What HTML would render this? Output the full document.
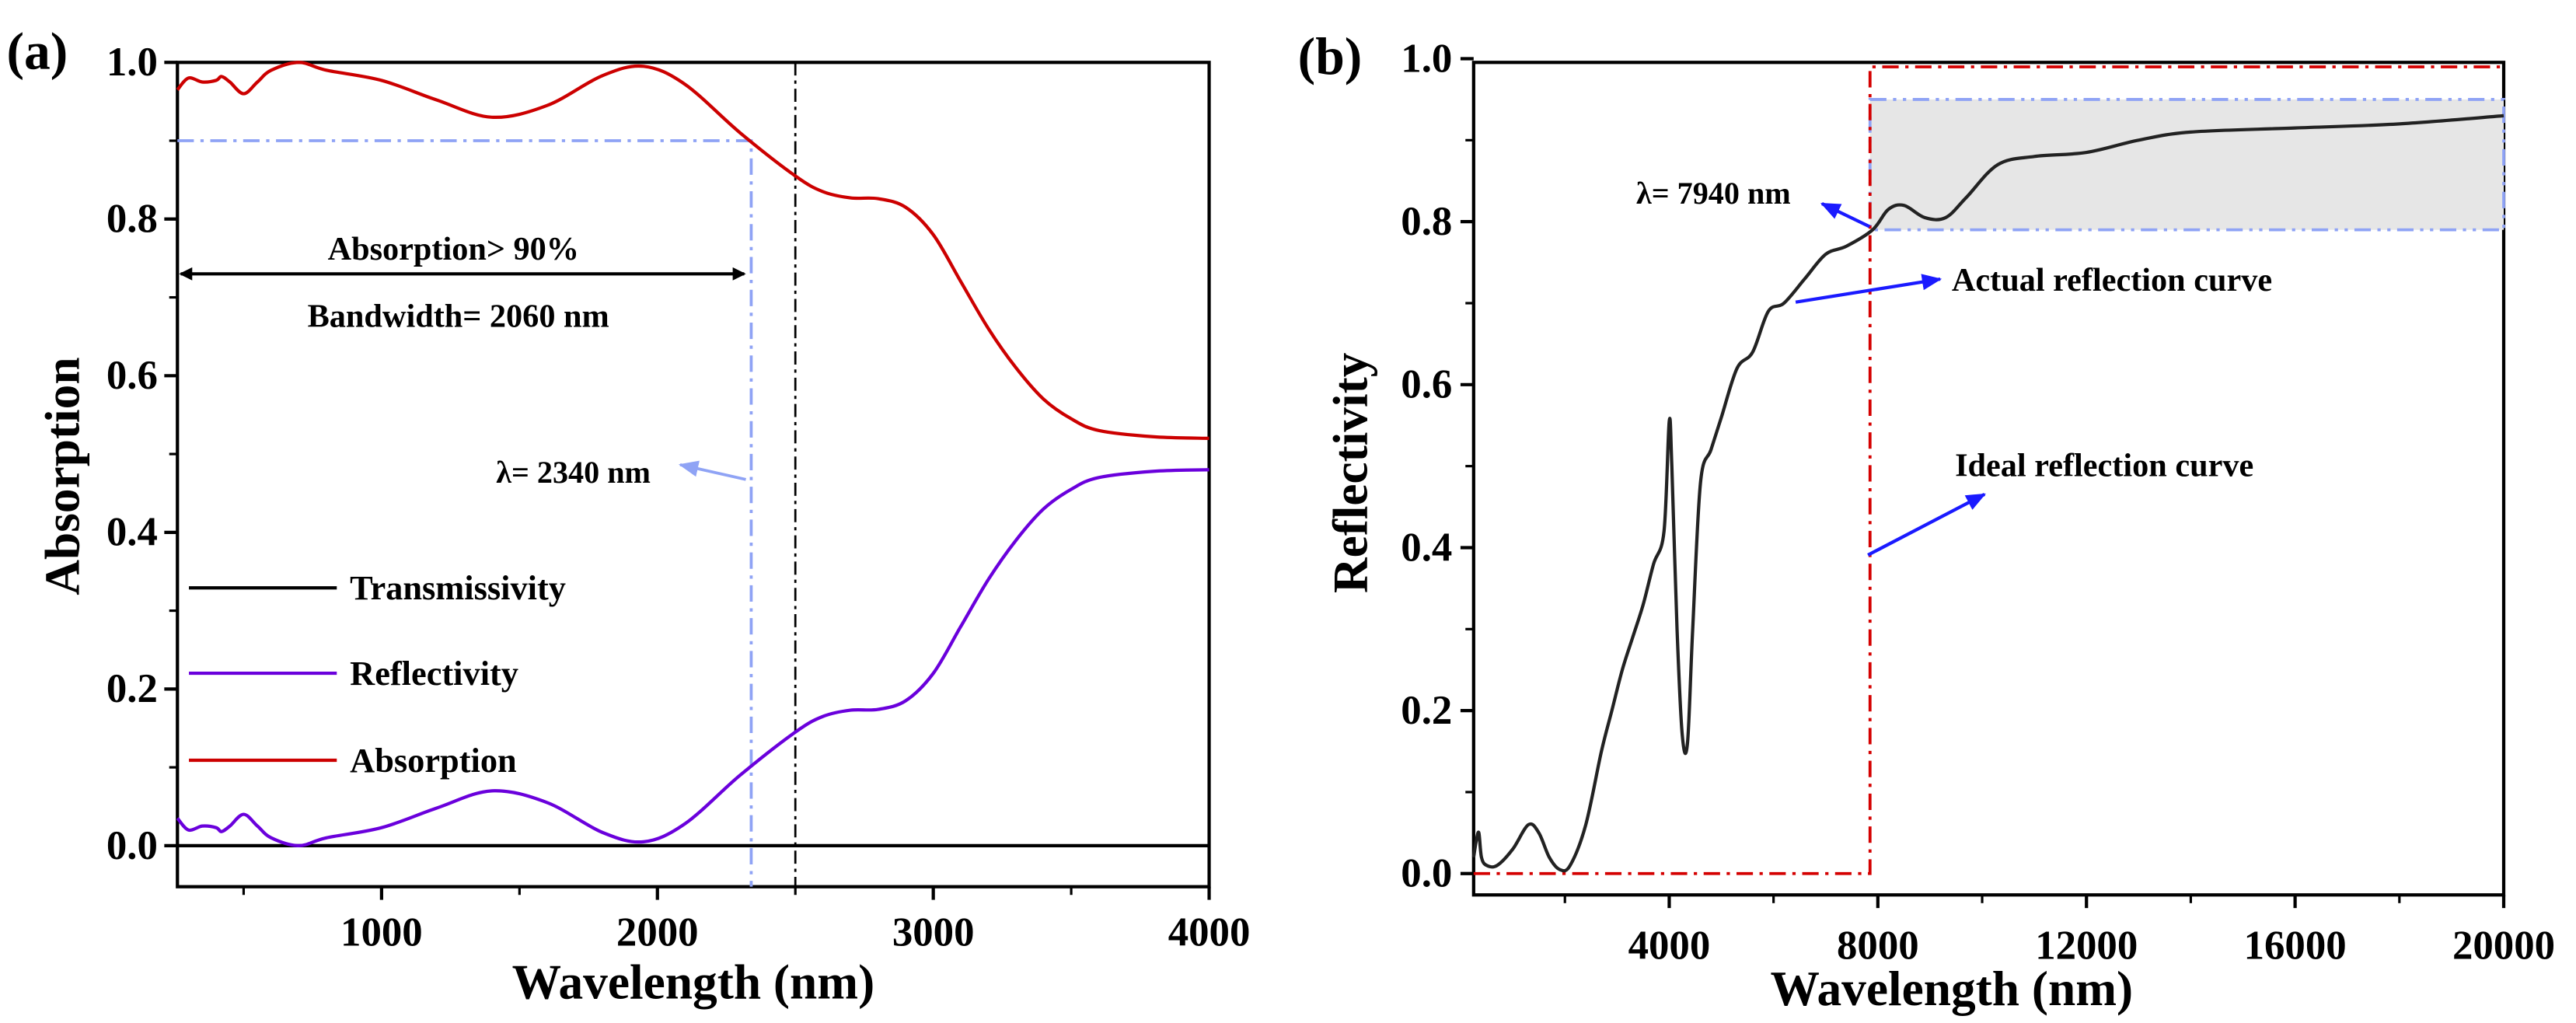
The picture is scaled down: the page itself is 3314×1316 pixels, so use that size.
<!DOCTYPE html>
<html><head><meta charset="utf-8"><style>
html,body{margin:0;padding:0;background:#fff}
svg{display:block}
text{font-family:"Liberation Serif",serif;font-weight:bold;fill:#000}
</style></head><body>
<svg id="fig" width="3314" height="1316" viewBox="0 0 1568 623" preserveAspectRatio="none" xmlns="http://www.w3.org/2000/svg">
<defs>
<marker id="ahK" markerWidth="8" markerHeight="8" refX="7" refY="4" orient="auto-start-reverse" markerUnits="userSpaceOnUse"><path d="M0,0 L8,4 L0,8 z" fill="#000"/></marker>
<marker id="ahB" markerWidth="12" markerHeight="10" refX="11" refY="5" orient="auto" markerUnits="userSpaceOnUse"><path d="M0,0 L12,5 L0,10 z" fill="#1a1aff"/></marker>
<marker id="ahL" markerWidth="12" markerHeight="10" refX="11" refY="5" orient="auto" markerUnits="userSpaceOnUse"><path d="M0,0 L12,5 L0,10 z" fill="#8fa3f5"/></marker>
</defs>
<g id="pa"></g>
<g id="pb"></g>
</svg>
<script>
// Panel (a) data
const aWave = [260,300,350,400,420,450,500,550,600,700,800,1000,1200,1400,1600,1800,1950,2100,2300,2500,2600,2700,2800,2900,3000,3100,3200,3300,3400,3500,3600,3800,4000];
const aAbs  = [0.965,0.98,0.975,0.977,0.982,0.975,0.96,0.975,0.99,1.0,0.99,0.977,0.952,0.93,0.945,0.983,0.995,0.972,0.91,0.855,0.835,0.827,0.826,0.815,0.78,0.72,0.66,0.61,0.57,0.545,0.53,0.522,0.52];
const aRef  = [0.035,0.02,0.025,0.023,0.018,0.025,0.04,0.025,0.01,0.0,0.01,0.023,0.048,0.07,0.055,0.017,0.005,0.028,0.09,0.145,0.165,0.173,0.174,0.185,0.22,0.28,0.34,0.39,0.43,0.455,0.47,0.478,0.48];
const aTrans= [0,0,0];
const aTransWave=[260,2000,4000];
const aXTicks=[1000,2000,3000,4000];
const aYTicks=[0,0.2,0.4,0.6,0.8,1.0];
// Panel (b) data
const bWave=[250,300,350,400,500,700,1000,1300,1500,1700,1900,2100,2400,2700,2900,3100,3300,3500,3700,3900,4000,4050,4150,4250,4350,4450,4600,4800,5000,5300,5600,5900,6200,6600,7000,7400,7900,8200,8500,8900,9300,9700,10300,11000,12000,13000,14000,16000,18000,20000];
const bRef=[0.02,0.04,0.05,0.02,0.01,0.01,0.03,0.06,0.05,0.02,0.005,0.01,0.06,0.15,0.2,0.25,0.29,0.33,0.38,0.42,0.555,0.5,0.3,0.17,0.16,0.3,0.48,0.52,0.56,0.62,0.64,0.69,0.70,0.73,0.76,0.77,0.79,0.815,0.82,0.805,0.805,0.83,0.87,0.88,0.885,0.9,0.91,0.915,0.92,0.93];
const bXTicks=[4000,8000,12000,16000,20000];
const bYTicks=[0,0.2,0.4,0.6,0.8,1.0];

const NS="http://www.w3.org/2000/svg";
function mk(parent,tag,attrs,txt){const e=document.createElementNS(NS,tag);for(const k in attrs)e.setAttribute(k,attrs[k]);if(txt!==undefined)e.textContent=txt;parent.appendChild(e);return e;}
function poly(xs,ys,fx,fy){return xs.map((x,i)=>(i?'L':'M')+fx(x).toFixed(2)+','+fy(ys[i]).toFixed(2)).join(' ');}
function smooth(xs,ys,fx,fy){
 const p=xs.map((x,i)=>[fx(x),fy(ys[i])]);
 let d='M'+p[0][0].toFixed(2)+','+p[0][1].toFixed(2);
 for(let i=0;i<p.length-1;i++){
  const p0=p[Math.max(0,i-1)],p1=p[i],p2=p[i+1],p3=p[Math.min(p.length-1,i+2)];
  const c1=[p1[0]+(p2[0]-p0[0])/6,p1[1]+(p2[1]-p0[1])/6];
  const c2=[p2[0]-(p3[0]-p1[0])/6,p2[1]-(p3[1]-p1[1])/6];
  d+=' C'+c1.map(v=>v.toFixed(2)).join(',')+' '+c2.map(v=>v.toFixed(2)).join(',')+' '+p2.map(v=>v.toFixed(2)).join(',');
 }
 return d;
}

// ---------- Panel A ----------
const pa=document.getElementById('pa');
const ax=v=>108+(v-260)*(736-108)/(4000-260);
const ay=v=>515-v*477;
let f=mk(pa,'rect',{x:108,y:38,width:628,height:502,fill:'none',stroke:'#000','stroke-width':2});

aXTicks.forEach(t=>{let l=mk(pa,'line',{x1:ax(t),x2:ax(t),y1:540,y2:548,stroke:'#000','stroke-width':2});

let tx=mk(pa,'text',{x:ax(t),y:576,'text-anchor':'middle','font-size':25},t);
});
[500,1500,2500,3500].forEach(t=>{let l=mk(pa,'line',{x1:ax(t),x2:ax(t),y1:540,y2:545,stroke:'#000','stroke-width':1.5});
});
aYTicks.forEach(t=>{let l=mk(pa,'line',{x1:100,x2:108,y1:ay(t),y2:ay(t),stroke:'#000','stroke-width':2});

let tx=mk(pa,'text',{x:96,y:ay(t)+8,'text-anchor':'end','font-size':25},t.toFixed(1));
});
[0.1,0.3,0.5,0.7,0.9].forEach(t=>{let l=mk(pa,'line',{x1:103,x2:108,y1:ay(t),y2:ay(t),stroke:'#000','stroke-width':1.5});
});
let t1=mk(pa,'text',{x:422,y:608,'text-anchor':'middle','font-size':30},'Wavelength (nm)');

let t2=mk(pa,'text',{x:0,y:0,'text-anchor':'middle','font-size':30,transform:'translate(48,290) rotate(-90)'},'Absorption');

let t3=mk(pa,'text',{x:4,y:42,'font-size':32},'(a)');

let v1=mk(pa,'line',{x1:ax(2500),x2:ax(2500),y1:38,y2:540,stroke:'#000','stroke-width':1.3,'stroke-dasharray':'8,3,2,3'});

let bl=mk(pa,'path',{d:`M108,${ay(0.9)} L${ax(2340)},${ay(0.9)} L${ax(2340)},540`,fill:'none',stroke:'#8fa3f5','stroke-width':1.8,'stroke-dasharray':'10,4,2,4'});

let st=mk(pa,'path',{d:poly(aTransWave,aTrans,ax,ay),fill:'none',stroke:'#000','stroke-width':2});

let sr=mk(pa,'path',{d:smooth(aWave,aRef,ax,ay),fill:'none',stroke:'#6a00dc','stroke-width':2,'stroke-linejoin':'round'});

let sa=mk(pa,'path',{d:smooth(aWave,aAbs,ax,ay),fill:'none',stroke:'#cc0000','stroke-width':2,'stroke-linejoin':'round'});

let ar=mk(pa,'line',{x1:110,x2:453,y1:ay(0.73),y2:ay(0.73),stroke:'#000','stroke-width':2,'marker-start':'url(#ahK)','marker-end':'url(#ahK)'});

let n1=mk(pa,'text',{x:276,y:158,'text-anchor':'middle','font-size':20},'Absorption> 90%');

let n2=mk(pa,'text',{x:279,y:199,'text-anchor':'middle','font-size':20},'Bandwidth= 2060 nm');

let n3=mk(pa,'text',{x:349,y:294,'text-anchor':'middle','font-size':19},'λ= 2340 nm');

let a3=mk(pa,'line',{x1:454,y1:292,x2:414,y2:283,stroke:'#8fa3f5','stroke-width':1.8,'marker-end':'url(#ahL)'});

[['#000','Transmissivity',358],['#6a00dc','Reflectivity',410],['#cc0000','Absorption',463]].forEach(([c,lab,y])=>{
 let g=mk(pa,'g',{});
 mk(g,'line',{x1:115,x2:205,y1:y,y2:y,stroke:c,'stroke-width':2});
 mk(g,'text',{x:213,y:y+7,'font-size':21},lab);
});

// ---------- Panel B ----------
const pb=document.getElementById('pb');
const bx=v=>897+(v-250)*(1524-897)/(20000-250);
const by=v=>532-v*496.25;
let fb=mk(pb,'rect',{x:897,y:38,width:627,height:507,fill:'none',stroke:'#000','stroke-width':2});

bXTicks.forEach(t=>{let l=mk(pb,'line',{x1:bx(t),x2:bx(t),y1:545,y2:553,stroke:'#000','stroke-width':2});

let tx=mk(pb,'text',{x:bx(t),y:584,'text-anchor':'middle','font-size':25},t);
});
[2000,6000,10000,14000,18000].forEach(t=>{let l=mk(pb,'line',{x1:bx(t),x2:bx(t),y1:545,y2:550,stroke:'#000','stroke-width':1.5});
});
bYTicks.forEach(t=>{let l=mk(pb,'line',{x1:889,x2:897,y1:by(t),y2:by(t),stroke:'#000','stroke-width':2});

let tx=mk(pb,'text',{x:884,y:by(t)+8,'text-anchor':'end','font-size':25},t.toFixed(1));
});
[0.1,0.3,0.5,0.7,0.9].forEach(t=>{let l=mk(pb,'line',{x1:892,x2:897,y1:by(t),y2:by(t),stroke:'#000','stroke-width':1.5});
});
let u1=mk(pb,'text',{x:1188,y:612,'text-anchor':'middle','font-size':30},'Wavelength (nm)');

let u2=mk(pb,'text',{x:0,y:0,'text-anchor':'middle','font-size':30,transform:'translate(832,288) rotate(-90)'},'Reflectivity');

let u3=mk(pb,'text',{x:790,y:45,'font-size':32},'(b)');

let gb=mk(pb,'rect',{x:bx(7850),y:by(0.95),width:1524-bx(7850),height:by(0.79)-by(0.95),fill:'#e6e6e6',stroke:'#8fa3f5','stroke-width':1.8,'stroke-dasharray':'10,4,2,4,2,4'});

let rl=mk(pb,'path',{d:`M897,${by(0)} L${bx(7850)},${by(0)} L${bx(7850)},${by(0.99)} L1524,${by(0.99)}`,fill:'none',stroke:'#d40000','stroke-width':1.8,'stroke-dasharray':'10,4,2,4'});

let sb=mk(pb,'path',{d:smooth(bWave,bRef,bx,by),fill:'none',stroke:'#222','stroke-width':2,'stroke-linejoin':'round'});

let m1=mk(pb,'text',{x:1043,y:124,'text-anchor':'middle','font-size':19},'λ= 7940 nm');

let ma=mk(pb,'line',{x1:1138,y1:138,x2:1109,y2:124,stroke:'#1a1aff','stroke-width':2,'marker-end':'url(#ahB)'});

let m2=mk(pb,'text',{x:1188,y:177,'font-size':20},'Actual reflection curve');

let mb=mk(pb,'line',{x1:1093,y1:184,x2:1181,y2:170,stroke:'#1a1aff','stroke-width':2,'marker-end':'url(#ahB)'});

let m3=mk(pb,'text',{x:1190,y:290,'font-size':20},'Ideal reflection curve');

let mc=mk(pb,'line',{x1:1137,y1:338,x2:1208,y2:301,stroke:'#1a1aff','stroke-width':2,'marker-end':'url(#ahB)'});

</script>
</body></html>
